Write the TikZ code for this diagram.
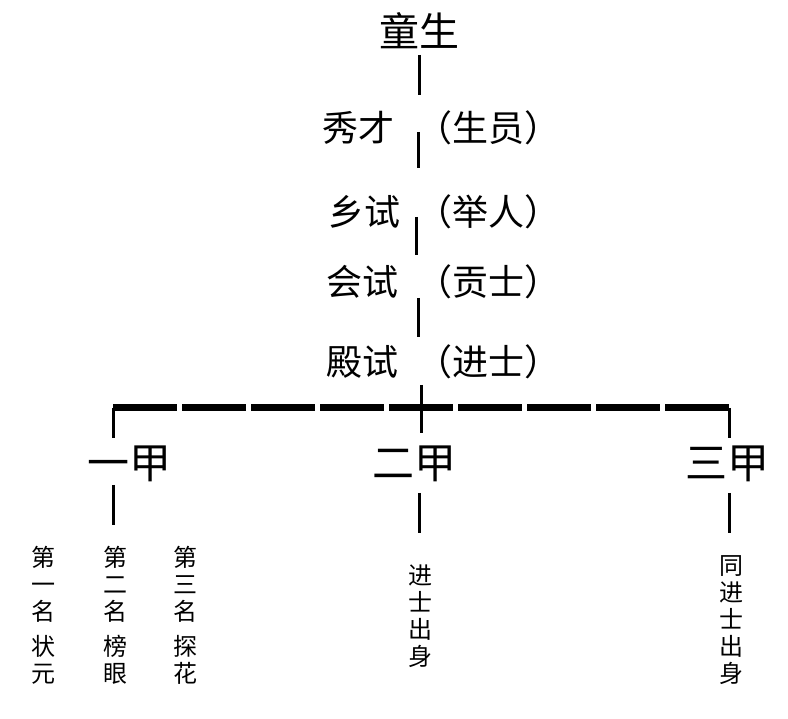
\documentclass[tikz,border=0pt]{standalone}
\usepackage{fontspec}
\setmainfont{Noto Sans CJK SC}
\usetikzlibrary{positioning}

\begin{document}
\begin{tikzpicture}[x=1pt, y=-1pt, line width=3pt,
  every node/.style={inner sep=0pt},
  toplabel/.style={font=\fontsize{40}{44}\selectfont},
  rowlabel/.style={font=\fontsize{36}{40}\selectfont},
  grade/.style={font=\fontsize{42}{46}\selectfont},
  vtext/.style={font=\fontsize{24}{27}\selectfont, align=center},
  bar/.style={line width=7pt, dash pattern=on 64pt off 5pt}]
  \useasboundingbox (0,0) rectangle (788,719);

  % top of the ladder
  \node[toplabel] (tongsheng) at (419,31) {童生};
  \node[rowlabel] (xiucai)    at (358,128) {秀才};
  \node[rowlabel] (shengyuan) at (488,128) {（生员）};
  \node[rowlabel] (xiangshi)  at (364,212) {乡试};
  \node[rowlabel] (juren)     at (488,212) {（举人）};
  \node[rowlabel] (huishi)    at (362,282) {会试};
  \node[rowlabel] (gongshi)   at (488,282) {（贡士）};
  \node[rowlabel] (dianshi)   at (362,362) {殿试};
  \node[rowlabel] (jinshi)    at (488,362) {（进士）};

  % trunk segments
  \coordinate (t0) at (419,55);  \coordinate (t1) at (419,95);
  \coordinate (t2) at (418,132); \coordinate (t3) at (418,168);
  \coordinate (t4) at (416,217); \coordinate (t5) at (416,255);
  \coordinate (t6) at (418,298); \coordinate (t7) at (418,337);
  \coordinate (t8) at (421,385); \coordinate (t9) at (421,433);
  \draw (t0) -- (t1);
  \draw (t2) -- (t3);
  \draw (t4) -- (t5);
  \draw (t6) -- (t7);
  \draw (t8) -- (t9);

  % the bar over the three grades
  \coordinate (bl) at (113,408);
  \coordinate (br) at (729,408);
  \coordinate (bld) at (113,438);
  \coordinate (brd) at (729,438);
  \draw (bl) -- (bld);
  \draw (br) -- (brd);
  \draw[bar] (bl) -- (br);

  \node[grade] (yijia)  at (129.5,464) {一甲};
  \node[grade] (erjia)  at (414,464)   {二甲};
  \node[grade] (sanjia) at (727.5,464) {三甲};

  \coordinate (y0) at (113,485); \coordinate (y1) at (113,525);
  \coordinate (e0) at (419,493); \coordinate (e1) at (419,533);
  \coordinate (s0) at (729,493); \coordinate (s1) at (729,533);
  \draw (y0) -- (y1);
  \draw (e0) -- (e1);
  \draw (s0) -- (s1);

  % vertical labels
  \node[vtext] (mingyi)   at (43,584)  {第\\一\\名};
  \node[vtext] (zhuangyuan) at (43,660) {状\\元};
  \node[vtext] (minger)   at (115,584) {第\\二\\名};
  \node[vtext] (bangyan)  at (115,660) {榜\\眼};
  \node[vtext] (mingsan)  at (185,584) {第\\三\\名};
  \node[vtext] (tanhua)   at (185,660) {探\\花};
  \node[vtext] (chushen)  at (420,616) {进\\士\\出\\身};
  \node[vtext] (tongchushen) at (731,620) {同\\进\\士\\出\\身};
\end{tikzpicture}
\end{document}
